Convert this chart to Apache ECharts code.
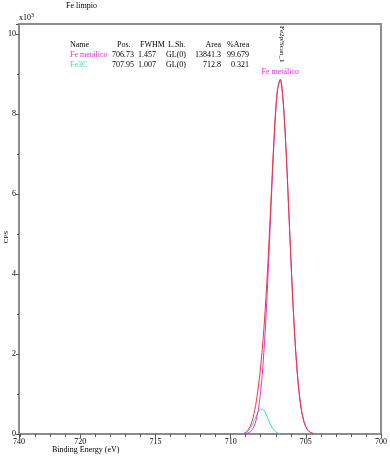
<!DOCTYPE html>
<html><head><meta charset="utf-8">
<script src="https://cdn.jsdelivr.net/npm/echarts@6/dist/echarts.min.js"></script>
<style>html,body{margin:0;padding:0;background:#fff}#c{width:390px;height:456px}</style>
</head><body><div id="c"></div>
<script>
// Binding energy (eV) sample points
var energy = [704.5,704.7,704.9,705.1,705.3,705.5,705.7,705.9,706.1,706.3,706.5,706.7,706.9,707.1,707.3,707.5,707.7,707.9,708.1,708.3,708.5,708.7,708.9,709.1];
// CPS x10^3
var feMetal = [0.013,0.041,0.112,0.276,0.614,1.229,2.218,3.606,5.282,6.967,8.277,8.859,8.542,7.418,5.803,4.089,2.595,1.484,0.765,0.355,0.148,0.056,0.019,0.006];
var fe3c = [null,null,null,null,null,null,null,null,null,null,null,0.009,0.031,0.087,0.198,0.362,0.531,0.626,0.592,0.451,0.276,0.135,0.053,0.017];
var envelope = [0.013,0.041,0.112,0.276,0.614,1.229,2.218,3.606,5.282,6.967,8.277,8.868,8.573,7.505,6.001,4.451,3.126,2.110,1.357,0.806,0.424,0.191,0.072,0.023];
var yTicks = [0,2,4,6,8,10];
var xTicks = [700,705,710,715,720];
var tableHead = ['Name','Pos.','FWHM','L.Sh.','Area','%Area'];
var rowMetal = ['Fe metálico','706.73','1.457','GL(0)','13841.3','99.679'];
var rowFe3C = ['Fe3C','707.95','1.007','GL(0)','712.8','0.321'];

function pairs(y){ return energy.map(function(e,i){ return [e, y[i]]; }); }

var FONT = '"Liberation Serif", "DejaVu Serif", serif';
var GRAY = '#8c8c8c';
var MAG = '#e030e0';
var CYAN = '#40d4d4';

var chart = echarts.init(document.getElementById('c'));

var colX = [70, 134, 156, 186, 221, 249];
var colAlign = ['left','right','right','right','right','right'];
var headX = [70, 117, 140, 168, 221, 227];
var headAlign = ['left','left','left','left','right','left'];
function rowTexts(row, y, firstColor, xs, al){
  return row.map(function(t, i){
    return {type:'text', left: al[i]==='left'? xs[i] : null, right: al[i]==='right'? 390-xs[i] : null, top: y,
      style:{text:t, font:'8px '+FONT, fill: i===0 ? firstColor : '#000'}};
  });
}

var graphics = [
  {type:'text', left:66, top:2, style:{text:'Fe limpio', font:'8px '+FONT, fill:'#000'}},
  {type:'text', left:19, top:12, style:{text:'x10{s|3}', font:'8px '+FONT, fill:'#000', rich:{s:{fontSize:6, fontFamily:FONT, verticalAlign:'top', padding:[0,0,5,0]}}}},
  {type:'text', x:6, y:237, rotation:Math.PI/2, style:{text:'CPS', font:'7px '+FONT, fill:'#000', align:'center', verticalAlign:'middle'}},
  {type:'text', left:52, top:446, style:{text:'Binding Energy (eV)', font:'8px '+FONT, fill:'#000'}},
  {type:'text', x:282, y:26, rotation:-Math.PI/2, style:{text:'Fe2p/Scan_1', font:'7px '+FONT, fill:'#000', align:'left', verticalAlign:'middle'}}
].concat(rowTexts(tableHead, 41, '#000', headX, headAlign), rowTexts(rowMetal, 51, MAG, colX, colAlign), rowTexts(rowFe3C, 61, CYAN, colX, colAlign));

chart.setOption({
  animation:false,
  backgroundColor:'#fff',
  grid:{left:19, right:5, top:24, bottom:22, show:true, borderColor:GRAY, borderWidth:2, backgroundColor:'#fff'},
  xAxis:{type:'value', inverse:true, min:700, max:724.08, interval:5,
    axisLine:{lineStyle:{color:GRAY, width:2}},
    axisTick:{show:true, length:4, lineStyle:{color:'#555'}},
    minorTick:{show:true, splitNumber:5, length:3, lineStyle:{color:'#555'}},
    splitLine:{show:false},
    axisLabel:{fontFamily:FONT, fontSize:8, color:'#000', margin:4, showMaxLabel:true, showMinLabel:true,
      formatter:function(v){ if(v>722) return '740'; return xTicks.indexOf(Math.round(v))>=0 ? String(Math.round(v)) : ''; }}
  },
  yAxis:{type:'value', min:0, max:10.25, interval:2,
    axisLine:{show:true, lineStyle:{color:GRAY, width:2}},
    axisTick:{show:true, length:3, lineStyle:{color:'#555'}},
    minorTick:{show:true, splitNumber:2, length:2, lineStyle:{color:'#555'}},
    splitLine:{show:false},
    axisLabel:{fontFamily:FONT, fontSize:8, color:'#000', margin:3, showMaxLabel:false,
      formatter:function(v){ return yTicks.indexOf(v)>=0 ? String(v) : ''; }}
  },
  series:[
    {type:'line', name:'Fe3C', data:pairs(fe3c), smooth:0.3, showSymbol:false, connectNulls:false, lineStyle:{color:CYAN, width:1}, z:2},
    {type:'line', name:'Fe metálico', data:pairs(feMetal), smooth:0.3, showSymbol:false, lineStyle:{color:MAG, width:1}, z:3},
    {type:'line', name:'Envelope', data:pairs(envelope), smooth:0.3, showSymbol:false, lineStyle:{color:'#e8383a', width:1}, z:4,
      markPoint:{symbol:'circle', symbolSize:0, data:[{type:'max'}],
        label:{show:true, position:'top', distance:3, formatter:'Fe metálico', fontFamily:FONT, fontSize:8, color:MAG}}}
  ],
  graphic:graphics
});
</script></body></html>
